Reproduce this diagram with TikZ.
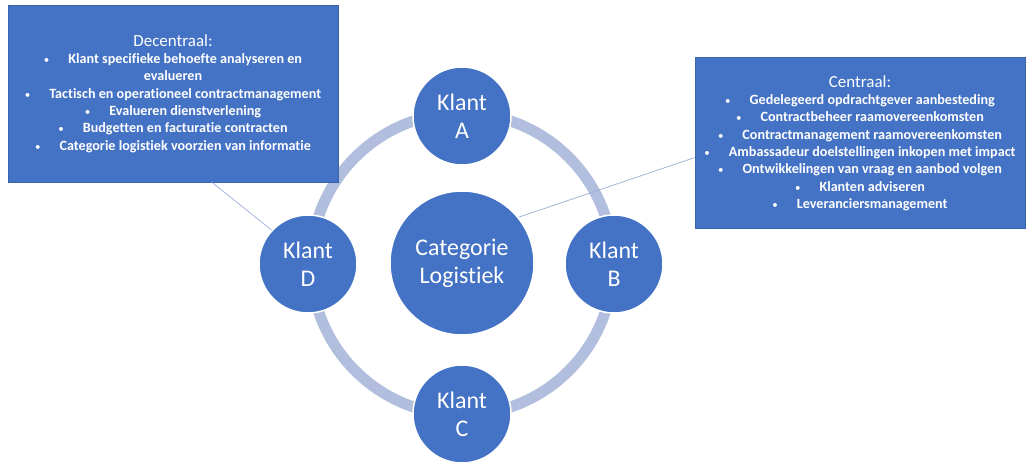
\documentclass[tikz,border=0pt]{standalone}
\usepackage{fontspec}
\setmainfont[Ligatures=NoCommon]{Carlito}
\usetikzlibrary{calc}
\definecolor{officeblue}{HTML}{4472C4}
\definecolor{boxedge}{HTML}{3A63AE}
\definecolor{ringgrey}{HTML}{B1BEDD}
\definecolor{linkgrey}{HTML}{A3B3D9}
\newcommand\bul{{\mdseries\fontsize{11}{11}\selectfont •}\hspace{19bp}}
\tikzset{
  infobox/.style={fill=officeblue, draw=boxedge, line width=0.8bp, text=white,
    align=center, inner sep=0pt, font=\bfseries\fontsize{14.2}{17.4}\selectfont},
  klant/.style={circle, fill=officeblue, draw=white, line width=1.5bp, text=white,
    align=center, inner sep=0pt, minimum size=98bp, font=\fontsize{24}{28}\selectfont},
  hub/.style={klant, minimum size=144bp},
  ring/.style={draw=ringgrey, line width=11bp},
  link/.style={draw=linkgrey, line width=0.8bp},
}
\begin{document}
\begin{tikzpicture}[x=1bp, y=-1bp]
\useasboundingbox (0,0) rectangle (1027,463);

% grey ring joining the clients
\coordinate (mid) at (462,264);
\draw[ring] (mid) circle (151);

% central category and the four clients
\node[hub] (cat) at (462,263) {Categorie\\Logistiek};
\node[klant] (kA) at (462,116) {Klant\\A};
\node[klant] (kB) at (614,264) {Klant\\B};
\node[klant] (kC) at (462,414) {Klant\\C};
\node[klant] (kD) at (308,264) {Klant\\D};

% decentral tasks
\node[infobox, minimum width=330bp, minimum height=177bp] (dbox) at (173,93.5)
  {{\mdseries\fontsize{17}{19}\selectfont Decentraal:}\\
   \bul Klant specifieke behoefte analyseren en\\
   evalueren\\
   \bul Tactisch en operationeel contractmanagement\\
   \bul Evalueren dienstverlening\\
   \bul Budgetten en facturatie contracten\\
   \bul Categorie logistiek voorzien van informatie};

% central tasks
\node[infobox, minimum width=330bp, minimum height=171bp] (cbox) at (860,143)
  {{\mdseries\fontsize{17}{17.4}\selectfont Centraal:}\\
   \bul Gedelegeerd opdrachtgever aanbesteding\\
   \bul Contractbeheer raamovereenkomsten\\
   \bul Contractmanagement raamovereenkomsten\\
   \bul Ambassadeur doelstellingen inkopen met impact\\
   \bul Ontwikkelingen van vraag en aanbod volgen\\
   \bul Klanten adviseren\\
   \bul Leveranciersmanagement};

% connectors from the boxes
\coordinate (dfoot) at ($(dbox.south west)!0.618!(dbox.south east)$);
\coordinate (cfoot) at ($(cbox.north west)!0.585!(cbox.south west)$);
\draw[link] (dfoot) -- (kD.137.5);
\draw[link] (cat.39) -- (cfoot);
\end{tikzpicture}
\end{document}
